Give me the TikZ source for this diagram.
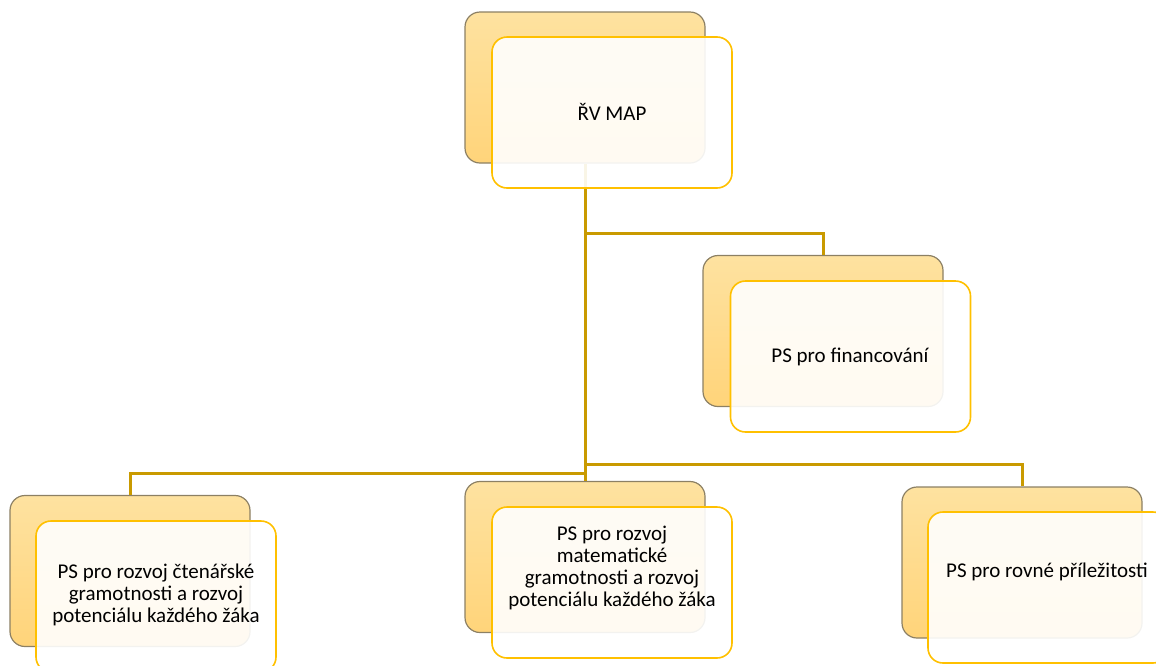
\documentclass[tikz,border=0pt]{standalone}
\usepackage{fontspec}
\setmainfont{Carlito}
\definecolor{linegold}{RGB}{201,154,0}
\definecolor{backtop}{RGB}{254,226,160}
\definecolor{backbot}{RGB}{255,212,122}
\definecolor{backedge}{RGB}{140,128,100}
\definecolor{frontedge}{RGB}{255,192,0}
\tikzset{
  backbox/.style={draw=backedge, line width=1.2pt, rounded corners=15pt,
    top color=backtop, bottom color=backbot, minimum width=240pt,
    minimum height=151pt, inner sep=0pt},
  frontbox/.style={draw=frontedge, line width=1.6pt, rounded corners=15pt,
    fill=white, fill opacity=0.9, minimum width=240pt, minimum height=151pt,
    inner sep=0pt},
  lbl/.style={align=center, font=\fontsize{21pt}{21.7pt}\selectfont, inner sep=0pt},
  conn/.style={draw=linegold, line width=3pt}
}
\begin{document}
\begin{tikzpicture}[x=1pt,y=-1pt]
\useasboundingbox (0,0) rectangle (1156,665);
\clip (0,0) rectangle (1156,665);
% back boxes
\node[backbox] (topback) at (585,87.5) {};
\node[backbox] (finback) at (823,331) {};
\node[backbox] (leftback) at (130,571) {};
\node[backbox] (midback) at (585,557) {};
\node[backbox] (rightback) at (1022,562.5) {};
% junctions
\coordinate (j1) at (585,233);
\coordinate (j2) at (585,464);
\coordinate (j3) at (585,473);
% connectors
\draw[conn] (topback.south) -- (midback.north);
\draw[conn] (j1) -| (finback.north);
\draw[conn] (j3) -| (leftback.north);
\draw[conn] (j2) -| (rightback.north);
% front boxes
\node[frontbox] (topfront) at (612,112.5) {};
\node[frontbox] (finfront) at (850.5,356.5) {};
\node[frontbox] (leftfront) at (156,596.5) {};
\node[frontbox] (midfront) at (612,582.5) {};
\node[frontbox] (rightfront) at (1048,587.5) {};
% labels
\node[lbl] (toplbl) at (612,112) {ŘV MAP};
\node[lbl] (finlbl) at (850,357) {PS pro financování};
\node[lbl] (leftlbl) at (156,595) {PS pro rozvoj čtenářské\\gramotnosti a rozvoj\\potenciálu každého žáka};
\node[lbl] (midlbl) at (612,568) {PS pro rozvoj\\matematické\\gramotnosti a rozvoj\\potenciálu každého žáka};
\node[lbl] (rightlbl) at (1047,572) {PS pro rovné příležitosti};
\end{tikzpicture}
\end{document}
